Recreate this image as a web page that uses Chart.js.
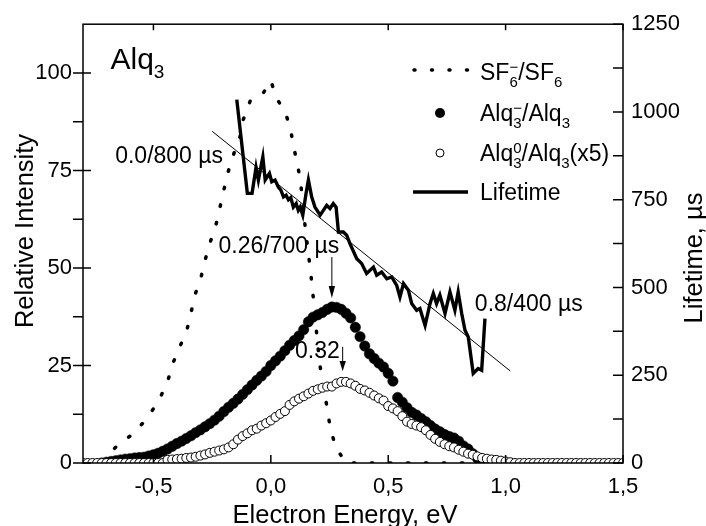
<!DOCTYPE html>
<html>
<head>
<meta charset="utf-8">
<script src="https://cdn.jsdelivr.net/npm/chart.js@4"></script>
<style>
  html, body { margin: 0; padding: 0; background: #fff; }
  #wrap { width: 706px; height: 526px; }
</style>
</head>
<body>
<div id="wrap"><canvas id="chart"></canvas></div>
<script>
// shared energy grid of the Alq3 scans (eV)
const energyGrid = [
  -0.80,-0.78,-0.76,-0.74,-0.72,-0.70,-0.68,-0.66,-0.64,-0.62,
  -0.60,-0.58,-0.56,-0.54,-0.52,-0.50,-0.48,-0.46,-0.44,-0.42,
  -0.40,-0.38,-0.36,-0.34,-0.32,-0.30,-0.28,-0.26,-0.24,-0.22,
  -0.20,-0.18,-0.16,-0.14,-0.12,-0.10,-0.08,-0.06,-0.04,-0.02,
  0.00,0.02,0.04,0.06,0.08,0.10,0.12,0.14,0.16,0.18,
  0.20,0.22,0.24,0.26,0.28,0.30,0.32,0.34,0.36,0.38,
  0.40,0.42,0.44,0.46,0.48,0.50,0.52,0.54,0.56,0.58,
  0.60,0.62,0.64,0.66,0.68,0.70,0.72,0.74,0.76,0.78,
  0.80,0.82,0.84,0.86,0.88,0.90,0.92,0.94,0.96,0.98,
  1.00,1.02,1.04,1.06,1.08,1.10,1.12,1.14,1.16,1.18,
  1.20,1.22,1.24,1.26,1.28,1.30,1.32,1.34,1.36,1.38,
  1.40,1.42,1.44,1.46,1.48,1.50
];
// Alq3-/Alq3 (filled circles)
const anionIntensity = [
  null,null,null,null,0,0.2,0.4,0.6,0.8,1.0,
  1.1,1.3,1.4,1.5,1.8,2.1,2.5,3.0,3.6,4.3,
  5.0,5.6,6.3,7.0,7.8,8.5,9.3,10.1,11.0,12.0,
  13.2,14.3,15.3,16.4,17.6,18.8,20.0,21.2,22.3,23.5,
  25.0,26.2,27.4,28.8,30.2,31.4,32.6,34.2,36.2,37.4,
  38.0,38.6,39.4,40.0,39.9,39.4,38.4,37.2,34.8,32.4,
  30.0,28.0,26.8,25.6,24.6,23.0,21.0,16.8,15.6,14.2,
  13.0,12.3,11.4,10.6,9.6,8.7,8.0,7.3,6.8,6.4,
  5.6,4.4,3.6,2.4,1.2,0.4,0,null,null,null,
  null,null,null,null,null,null,null,null,null,null,
  null,null,null,null,null,null,null,null,null,null,
  null,null,null,null,null,null
];
// Alq3^0/Alq3 x5 (open circles)
const neutralIntensity = [
  0,0,0,0,0,0,0,0,0,0,
  0,0,0,0,0,0,0,0,0.8,0.9,
  1.0,1.1,1.3,1.4,1.6,1.9,2.2,2.6,2.9,3.2,
  3.5,4.0,4.8,6.0,6.9,7.6,8.4,8.8,9.6,10.2,
  10.9,11.8,12.6,13.3,14.9,15.8,16.5,17.1,17.8,18.5,
  18.9,19.3,19.6,19.6,20.4,20.8,20.8,20.4,19.8,19.0,
  18.6,18.0,17.3,16.6,16.0,14.6,14.0,13.3,12.0,10.6,
  10.0,9.6,9.2,8.4,7.2,6.2,5.4,4.8,4.3,4.0,
  3.4,2.9,2.4,2.1,1.7,1.3,1.1,0.9,0.8,0.6,
  0.4,0.2,0,0,0,0,0,0,0,0,
  0,0,0,0,0,0,0,0,0,0,
  0,0,0,0,0,0
];
// SF6-/SF6 calibration (dotted)
const sf6Energy = [-0.720,-0.653,-0.582,-0.523,-0.475,-0.440,-0.419,-0.389,-0.357,-0.339,
  -0.322,-0.297,-0.280,-0.258,-0.233,-0.216,-0.199,-0.180,-0.156,-0.131,
  -0.117,-0.088,-0.035,0.000,0.025,0.065,0.086,0.100,0.116,0.128,
  0.143,0.160,0.170,0.177,0.186,0.191,0.206,0.217,0.231,0.243,
  0.255,0.278,0.320,0.900];
const sf6Intensity = [0.5,4.5,7.7,11.8,16.3,20.8,25.3,29.6,34.2,38.8,
  43.3,47.7,52.0,56.6,61.2,65.7,70.3,75.0,79.6,83.7,
  88.1,92.8,94.6,98.0,93.5,89.4,84.8,80.3,75.8,71.3,
  62.3,53.6,48.9,44.3,40.0,35.8,26.5,21.9,17.4,12.8,
  8.4,3.9,0,0];
// lifetime (right axis, microseconds)
const lifeEnergy = [-0.145,-0.100,-0.080,-0.063,-0.053,-0.034,-0.024,-0.006,0.004,0.018,
  0.032,0.043,0.054,0.065,0.075,0.085,0.096,0.108,0.117,0.125,
  0.136,0.150,0.160,0.174,0.188,0.210,0.238,0.252,0.266,0.278,
  0.288,0.309,0.323,0.337,0.366,0.380,0.387,0.408,0.437,0.451,
  0.472,0.494,0.515,0.536,0.550,0.565,0.586,0.600,0.621,0.635,
  0.657,0.678,0.692,0.706,0.720,0.742,0.763,0.784,0.798,0.813,
  0.827,0.841,0.862,0.883,0.898,0.912];
const lifeValue = [1035,768,768,842,806,872,806,825,801,806,
  786,777,758,763,750,756,729,739,720,729,
  706,768,806,758,729,706,734,725,739,729,
  658,658,649,625,582,573,568,540,558,535,
  544,525,530,506,473,511,492,454,435,440,
  392,454,483,454,478,426,487,435,487,426,
  378,359,255,269,264,411];
// linear fit of the lifetime
const fitEnergy = [-0.25, 1.02];
const fitValue = [945, 262];

const minorIntensityTicks = [12.5, 37.5, 62.5, 87.5];
const minorLifetimeTicks = [125, 375, 625, 875, 1125];

const FONT = '"Liberation Sans", Arial, sans-serif';

// text labels placed in data units (eV, relative intensity)
const notes = [
  { parts: [{t: '0.0/800 µs'}], x: -0.663, y: 76.9 },
  { parts: [{t: '0.26/700 µs'}], x: -0.223, y: 53.8 },
  { parts: [{t: '0.8/400 µs'}], x: 0.869, y: 39.0 },
  { parts: [{t: '0.32'}], x: 0.103, y: 26.8 }
];
const arrows = [
  { x: 0.26, from: 52.8, to: 42.3, head: 12 },
  { x: 0.306, from: 29.8, to: 23.6, head: 10 }
];

function pts(xs, ys) {
  return xs.map((x, i) => ({ x: x, y: ys[i] }));
}

function drawRich(ctx, x, y, parts, size) {
  let cx = x;
  parts.forEach(p => {
    if (p.t) {
      ctx.font = size + 'px ' + FONT;
      ctx.fillText(p.t, cx, y);
      cx += ctx.measureText(p.t).width;
    } else {
      const s = Math.round(size * 0.64);
      ctx.font = s + 'px ' + FONT;
      let w = 0;
      if (p.sub) { ctx.fillText(p.sub, cx, y + size * 0.3); w = ctx.measureText(p.sub).width; }
      if (p.sup) { ctx.fillText(p.sup, cx, y - size * 0.33); w = Math.max(w, ctx.measureText(p.sup).width); }
      cx += w;
    }
  });
}

const decor = {
  id: 'decor',
  afterDraw(chart) {
    const ctx = chart.ctx, a = chart.chartArea;
    const sx = chart.scales.x, sy = chart.scales.y, s2 = chart.scales.y2;
    ctx.save();
    ctx.strokeStyle = '#000';
    ctx.fillStyle = '#000';
    ctx.lineWidth = 1.5;
    ctx.strokeRect(a.left, a.top, a.right - a.left, a.bottom - a.top);

    ctx.beginPath();
    sx.ticks.forEach(t => {
      const px = sx.getPixelForValue(t.value);
      ctx.moveTo(px, a.bottom); ctx.lineTo(px, a.bottom - 8);
      ctx.moveTo(px, a.top); ctx.lineTo(px, a.top + 6);
    });
    sy.ticks.forEach(t => {
      const py = sy.getPixelForValue(t.value);
      ctx.moveTo(a.left - 10, py); ctx.lineTo(a.left + 8, py);
    });
    minorIntensityTicks.forEach(v => {
      const py = sy.getPixelForValue(v);
      ctx.moveTo(a.left - 10, py); ctx.lineTo(a.left, py);
    });
    s2.ticks.forEach(t => {
      const py = s2.getPixelForValue(t.value);
      ctx.moveTo(a.right - 10, py); ctx.lineTo(a.right, py);
    });
    minorLifetimeTicks.forEach(v => {
      const py = s2.getPixelForValue(v);
      ctx.moveTo(a.right - 10, py); ctx.lineTo(a.right, py);
    });
    ctx.stroke();

    // axis titles
    ctx.textAlign = 'center';
    ctx.textBaseline = 'alphabetic';
    ctx.font = '25.5px ' + FONT;
    ctx.fillText('Electron Energy, eV', 345, 523);
    ctx.save();
    ctx.translate(33, 231); ctx.rotate(-Math.PI / 2);
    ctx.fillText('Relative Intensity', 0, 0);
    ctx.restore();
    ctx.save();
    ctx.translate(702, 258); ctx.rotate(-Math.PI / 2);
    ctx.fillText('Lifetime, µs', 0, 0);
    ctx.restore();

    // notes and arrows
    ctx.textAlign = 'left';
    drawRich(ctx, sx.getPixelForValue(-0.683), sy.getPixelForValue(101), [{t: 'Alq'}, {sub: '3'}], 30);
    notes.forEach(n => drawRich(ctx, sx.getPixelForValue(n.x), sy.getPixelForValue(n.y), n.parts, 23));
    arrows.forEach(ar => {
      const px = sx.getPixelForValue(ar.x);
      const y0 = sy.getPixelForValue(ar.from), y1 = sy.getPixelForValue(ar.to);
      ctx.lineWidth = 1;
      ctx.beginPath(); ctx.moveTo(px, y0); ctx.lineTo(px, y1 - 4); ctx.stroke();
      ctx.beginPath();
      ctx.moveTo(px, y1); ctx.lineTo(px - 3.2, y1 - ar.head); ctx.lineTo(px + 3.2, y1 - ar.head);
      ctx.closePath(); ctx.fill();
    });

    // legend
    ctx.lineWidth = 3.5;
    ctx.lineCap = 'round';
    ctx.setLineDash([1, 16.5]);
    ctx.beginPath(); ctx.moveTo(414, 70); ctx.lineTo(468, 70); ctx.stroke();
    ctx.setLineDash([]);
    ctx.lineCap = 'butt';
    ctx.lineWidth = 3.4;
    ctx.beginPath(); ctx.moveTo(413, 192); ctx.lineTo(468, 192); ctx.stroke();
    ctx.beginPath(); ctx.arc(440, 113, 5, 0, Math.PI * 2); ctx.fill();
    ctx.lineWidth = 1;
    ctx.beginPath(); ctx.arc(440, 153, 4, 0, Math.PI * 2); ctx.stroke();
    drawRich(ctx, 480, 80, [{t: 'SF'}, {sub: '6', sup: '−'}, {t: '/SF'}, {sub: '6'}], 23);
    drawRich(ctx, 480, 121, [{t: 'Alq'}, {sub: '3', sup: '−'}, {t: '/Alq'}, {sub: '3'}], 23);
    drawRich(ctx, 480, 161, [{t: 'Alq'}, {sub: '3', sup: '0'}, {t: '/Alq'}, {sub: '3'}, {t: '(x5)'}], 23);
    drawRich(ctx, 480, 200, [{t: 'Lifetime'}], 23);
    ctx.restore();
  }
};

const tickFont = { family: FONT, size: 22 };

new Chart(document.getElementById('chart'), {
  type: 'scatter',
  data: {
    datasets: [
      { label: 'Lifetime', data: pts(lifeEnergy, lifeValue), yAxisID: 'y2', showLine: true,
        borderColor: '#000', borderWidth: 3.4, pointRadius: 0, borderJoinStyle: 'miter', order: 0 },
      { label: 'fit', data: pts(fitEnergy, fitValue), yAxisID: 'y2', showLine: true,
        borderColor: '#000', borderWidth: 1, pointRadius: 0, order: 0 },
      { label: 'Alq3^0/Alq3(x5)', data: pts(energyGrid, neutralIntensity), yAxisID: 'y',
        pointRadius: 4.5, pointBorderWidth: 1, borderColor: '#000', backgroundColor: '#fff', clip: 0, order: 1 },
      { label: 'Alq3-/Alq3', data: pts(energyGrid, anionIntensity), yAxisID: 'y',
        pointRadius: 5.2, pointBorderWidth: 0.5, borderColor: '#000', backgroundColor: '#000', clip: 0, order: 2 },
      { label: 'SF6-/SF6', data: pts(sf6Energy, sf6Intensity), yAxisID: 'y', showLine: true,
        borderColor: '#000', borderWidth: 3.5, borderDash: [1.5, 16.5], borderCapStyle: 'round',
        pointRadius: 0, clip: 0, order: 3 }
    ]
  },
  options: {
    responsive: true,
    maintainAspectRatio: false,
    animation: false,
    devicePixelRatio: 1,
    layout: { padding: { top: 24, left: 0, right: 0, bottom: 0 } },
    plugins: { legend: { display: false }, tooltip: { enabled: false } },
    scales: {
      x: {
        type: 'linear', position: 'bottom', min: -0.8, max: 1.5,
        grid: { display: false, drawTicks: false }, border: { display: false },
        ticks: { stepSize: 0.5, includeBounds: false, autoSkip: false, maxRotation: 0, padding: 11,
          color: '#000', font: tickFont,
          callback: v => (Math.round(v * 10) / 10).toFixed(1).replace('.', ',') },
        afterFit: s => { s.height = 63; }
      },
      y: {
        type: 'linear', position: 'left', min: 0, max: 112.5,
        grid: { display: false, drawTicks: false }, border: { display: false },
        ticks: { stepSize: 25, includeBounds: false, autoSkip: false, padding: 11, color: '#000', font: tickFont,
          callback: v => String(v) },
        afterFit: s => { s.width = 83; }
      },
      y2: {
        type: 'linear', position: 'right', min: 0, max: 1250,
        grid: { display: false, drawTicks: false }, border: { display: false },
        ticks: { stepSize: 250, includeBounds: false, autoSkip: false, padding: 8, color: '#000', font: tickFont,
          callback: v => String(v) },
        afterFit: s => { s.width = 83; }
      }
    }
  },
  plugins: [decor]
});
</script>
</body>
</html>
